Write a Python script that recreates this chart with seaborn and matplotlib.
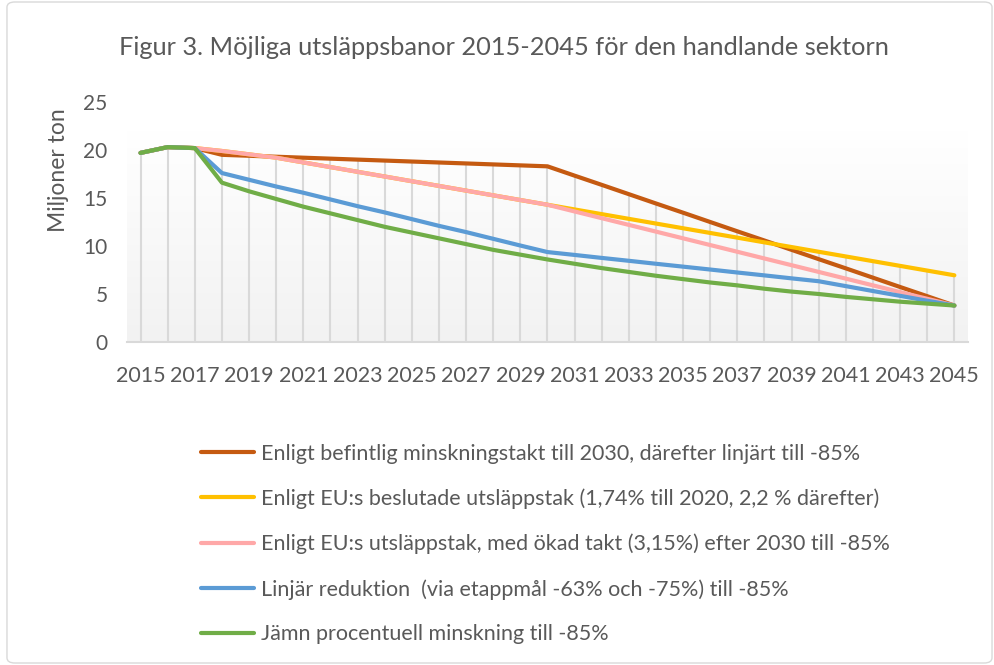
import numpy as np
import pandas as pd
import matplotlib
matplotlib.use("Agg")
import matplotlib.pyplot as plt
import seaborn as sns
from matplotlib.patches import FancyBboxPatch
from matplotlib.lines import Line2D
from matplotlib.colors import LinearSegmentedColormap

years = list(range(2015, 2046))
common = [19.7, 20.3, 20.2]

befintlig = common + [19.5, 19.4, 19.3, 19.2, 19.1, 19.0, 18.9, 18.8, 18.7, 18.6, 18.5, 18.4, 18.3,
                      17.33, 16.37, 15.4, 14.43, 13.47, 12.5, 11.53, 10.57, 9.6, 8.63, 7.67, 6.7, 5.73, 4.77, 3.8]
eu_beslutat = common + [19.9, 19.55, 19.2, 18.71, 18.22, 17.73, 17.24, 16.75, 16.26, 15.77, 15.28, 14.79, 14.3,
                        13.81, 13.32, 12.83, 12.34, 11.85, 11.36, 10.87, 10.38, 9.89, 9.4, 8.91, 8.42, 7.93, 7.44, 6.95]
eu_okad = common + [19.9, 19.55, 19.2, 18.71, 18.22, 17.73, 17.24, 16.75, 16.26, 15.77, 15.28, 14.79, 14.3,
                    13.6, 12.9, 12.2, 11.5, 10.8, 10.1, 9.4, 8.7, 8.0, 7.3, 6.6, 5.9, 5.2, 4.5, 3.8]
linjar = common + [17.6, 16.9, 16.2, 15.55, 14.85, 14.15, 13.5, 12.8, 12.1, 11.45, 10.75, 10.05, 9.37,
                   9.07, 8.76, 8.46, 8.15, 7.85, 7.55, 7.24, 6.94, 6.63, 6.33, 5.82, 5.31, 4.81, 4.3, 3.8]
jamn = common + [16.6, 15.7, 14.9, 14.1, 13.4, 12.7, 12.0, 11.4, 10.8, 10.2, 9.6, 9.1, 8.6,
                 8.15, 7.7, 7.3, 6.9, 6.55, 6.2, 5.9, 5.55, 5.25, 5.0, 4.7, 4.45, 4.2, 4.0, 3.8]

labels = [
    "Enligt befintlig minskningstakt till 2030, därefter linjärt till -85%",
    "Enligt EU:s beslutade utsläppstak (1,74% till 2020, 2,2 % därefter)",
    "Enligt EU:s utsläppstak, med ökad takt (3,15%) efter 2030 till -85%",
    "Linjär reduktion  (via etappmål -63% och -75%) till -85%",
    "Jämn procentuell minskning till -85%",
]
colors = ["#C55A11", "#FFC000", "#FFA8A8", "#5B9BD5", "#70AD47"]
series = [befintlig, eu_beslutat, eu_okad, linjar, jamn]

title = "Figur 3. Möjliga utsläppsbanor 2015-2045 för den handlande sektorn"
ylabel = "Miljoner ton"

df = pd.concat([pd.DataFrame({"År": years, "Värde": s, "Serie": l}) for s, l in zip(series, labels)])

sns.set_theme(style="white")
plt.rcParams["font.family"] = ["Lato", "DejaVu Sans"]
txt = "#595959"

fig = plt.figure(figsize=(9.95, 6.65), dpi=100)
ax = fig.add_axes([0.1276, 0.4857, 0.8452, 0.3609])

# gradient background
grad = np.linspace(0, 1, 256).reshape(-1, 1)
cmap = LinearSegmentedColormap.from_list("g", ["#F2F2F2", "#FFFFFF"])
ax.imshow(grad, aspect="auto", cmap=cmap, origin="lower",
          extent=(2014.5, 2045.5, 0, 21.9), zorder=0)

# drop lines
maxv = df.groupby("År")["Värde"].max()
ax.vlines(maxv.index, 0, maxv.values, color="#D9D9D9", lw=1.5, zorder=1)

sns.lineplot(data=df, x="År", y="Värde", hue="Serie", palette=colors, hue_order=labels,
             linewidth=3, ax=ax, legend=False, zorder=3)

ax.set_xlim(2014.5, 2045.5)
ax.set_ylim(0, 25)
ax.set_yticks([0, 5, 10, 15, 20, 25])
ax.set_xticks(years[::2])
ax.tick_params(axis="both", length=0, colors=txt)
ax.tick_params(axis="x", pad=17, labelsize=15.5)
ax.tick_params(axis="y", pad=14, labelsize=15)
for s in ["top", "right", "left"]:
    ax.spines[s].set_visible(False)
ax.spines["bottom"].set_color("#D9D9D9")
ax.spines["bottom"].set_linewidth(1.5)
ax.set_xlabel("")
ax.set_ylabel(ylabel, fontsize=16.5, color=txt, va="center", ha="center")
ax.yaxis.set_label_coords(-0.082, 0.717)

fig.text(0.506, 0.929, title, ha="center", va="center", fontsize=18.3, color=txt)

handles = [Line2D([], [], color=c, lw=3) for c in colors]
leg = fig.legend(handles, labels, loc="upper left", bbox_to_anchor=(0.193, 0.346),
                 frameon=False, fontsize=15.5, labelcolor=txt, handlelength=2.5,
                 handletextpad=0.3, labelspacing=1.15, borderaxespad=0)

fig.patches.append(FancyBboxPatch((0.007, 0.003), 0.99, 0.994, boxstyle="round,pad=0,rounding_size=0.008",
                                  transform=fig.transFigure, fill=False, ec="#D9D9D9", lw=1))

fig.savefig("out.png", dpi=100)
